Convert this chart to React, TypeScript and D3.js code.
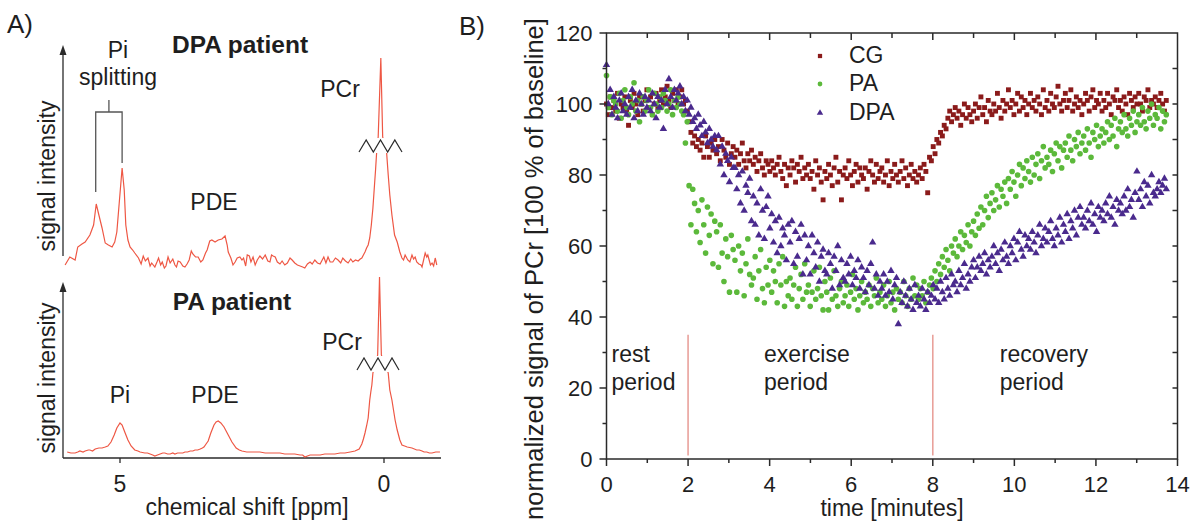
import React from 'react';
import * as d3 from 'd3';

// ---------- Panel B data (one value per scan) ----------
const SCAN_INTERVAL_MIN = 0.045;
const CG_VALUES = [
  100, 97, 102, 99, 101, 98, 103, 96, 100, 99,
  102, 98, 94, 101, 99, 103, 100, 97, 102, 100,
  98, 101, 104, 99, 102, 97, 100, 103, 99, 101,
  104, 100, 102, 105, 101, 99, 103, 101, 104, 100,
  102, 104, 100, 101, 98, 95, 92, 89, 91, 88,
  90, 87, 89, 85, 91, 88, 85, 89, 87, 90,
  86, 88, 84, 90, 87, 85, 89, 83, 86, 88,
  85, 87, 83, 86, 89, 84, 82, 86, 84, 87,
  83, 85, 81, 84, 86, 82, 80, 84, 83, 81,
  84, 82, 80, 83, 85, 81, 79, 83, 77, 82,
  80, 84, 82, 78, 83, 81, 85, 79, 82, 80,
  83, 79, 81, 76, 84, 80, 82, 78, 73, 81,
  79, 83, 80, 77, 82, 85, 78, 81, 73, 80,
  82, 79, 84, 80, 77, 81, 83, 78, 82, 80,
  79, 82, 76, 81, 84, 80, 78, 83, 79, 81,
  82, 78, 80, 84, 77, 81, 79, 83, 80, 78,
  81, 84, 79, 82, 77, 80, 83, 79, 81, 78,
  80, 82, 79, 83, 81, 75, 85, 84, 88, 86,
  90, 89, 92, 91, 94, 93, 96, 98, 95, 97,
  99, 96, 98, 94, 97, 100, 96, 99, 97, 95,
  98, 100, 96, 99, 102, 97, 99, 95, 101, 98,
  97, 100, 98, 103, 99, 96, 101, 98, 100, 104,
  99, 101, 97, 100, 103, 98, 102, 99, 101, 97,
  100, 103, 99, 101, 98, 102, 100, 97, 104, 99,
  101, 98, 103, 100, 99, 102, 105, 100, 98, 101,
  103, 99, 101, 104, 98, 100, 102, 99, 101, 97,
  100, 103, 101, 98, 102, 104, 99, 101, 100, 103,
  98, 101, 99, 103, 100, 97, 102, 101, 104, 99,
  101, 98, 102, 100, 97, 103, 101, 99, 102, 100,
  103, 100, 98, 102, 101, 104, 99, 101, 100, 102,
  99, 101, 103, 100, 98, 101,
];
const PA_VALUES = [
  108, 99, 102, 97, 101, 100, 98, 103, 96, 101,
  104, 99, 97, 102, 100, 106, 98, 101, 95, 100,
  102, 98, 101, 104, 99, 97, 103, 100, 98, 102,
  99, 103, 101, 98, 100, 104, 97, 101, 99, 102,
  100, 98, 97, 89, 95, 77, 66, 76, 72, 64,
  70, 61, 73, 66, 58, 71, 63, 69, 55, 67,
  64, 54, 66, 58, 50, 62, 57, 47, 63, 59,
  56, 47, 60, 53, 58, 46, 55, 62, 52, 49,
  51, 57, 45, 53, 59, 48, 44, 54, 49, 56,
  47, 53, 50, 44, 55, 49, 57, 43, 50, 46,
  51, 45, 49, 54, 43, 48, 52, 45, 55, 47,
  49, 43, 47, 53, 45, 48, 54, 46, 42, 50,
  47, 42, 51, 45, 53, 46, 43, 48, 50, 44,
  46, 49, 43, 47, 52, 45, 48, 42, 46, 50,
  44, 47, 45, 49, 43, 48, 46, 51, 44, 47,
  45, 49, 43, 46, 50, 44, 47, 42, 48, 45,
  47, 44, 50, 46, 43, 48, 45, 51, 46, 49,
  45, 48, 46, 50, 44, 47, 49, 51, 48, 53,
  50, 55, 52, 57, 54, 59, 56, 53, 60, 58,
  62, 57, 60, 64, 59, 63, 61, 66, 60, 64,
  67, 63, 69, 65, 71, 66, 70, 74, 68, 72,
  75, 70, 73, 77, 71, 76, 74, 78, 72, 79,
  76, 81, 78, 74, 80, 83, 77, 82, 79, 84,
  81, 78, 85, 80, 83, 86, 79, 84, 88, 82,
  85, 83, 87, 81, 86, 89, 84, 88, 82, 87,
  89, 85, 91, 87, 84, 90, 88, 92, 86, 89,
  91, 87, 93, 89, 85, 92, 90, 94, 88, 91,
  93, 89, 92, 95, 90, 94, 91, 96, 88, 93,
  95, 92, 97, 93, 91, 96, 94, 98, 92, 95,
  97, 94, 99, 95, 93, 98, 96, 100, 94, 97,
  96, 99, 93, 98, 95, 97,
];
const DPA_VALUES = [
  111, 100, 104, 97, 102, 99, 96, 101, 103, 98,
  100, 97, 102, 99, 104, 96, 101, 98, 103, 100,
  97, 102, 99, 101, 98, 103, 100, 96, 102, 99,
  101, 93, 104, 100, 107, 102, 99, 104, 101, 103,
  105, 100, 102, 98, 101, 97, 99, 95, 96, 93,
  97, 94, 91, 95, 92, 89, 93, 90, 88, 91,
  87, 91, 83, 88, 80, 86, 84, 78, 85, 82,
  82, 76, 80, 72, 81, 70, 77, 75, 79, 67,
  74, 66, 72, 63, 76, 70, 62, 71, 74, 65,
  69, 61, 67, 58, 68, 60, 65, 63, 56, 66,
  61, 67, 55, 64, 57, 62, 66, 52, 63, 56,
  60, 52, 63, 58, 54, 61, 50, 57, 59, 53,
  52, 58, 55, 48, 57, 53, 60, 49, 56, 51,
  50, 55, 52, 57, 49, 53, 51, 56, 48, 54,
  51, 47, 53, 49, 55, 61, 48, 52, 46, 50,
  48, 52, 46, 50, 47, 53, 45, 49, 51, 38,
  47, 44, 50, 46, 43, 48, 45, 42, 49, 44,
  46, 43, 48, 45, 42, 47, 44, 46, 49, 45,
  48, 44, 50, 47, 45, 51, 48, 46, 52, 49,
  50, 47, 53, 49, 51, 55, 48, 52, 50, 54,
  56, 51, 54, 57, 53, 55, 58, 52, 56, 54,
  57, 60, 55, 58, 53, 59, 56, 61, 57, 55,
  60, 58, 62, 56, 61, 64, 59, 57, 63, 60,
  62, 59, 64, 61, 58, 63, 66, 60, 62, 65,
  61, 64, 67, 62, 60, 65, 63, 68, 61, 66,
  64, 69, 62, 67, 65, 70, 63, 68, 71, 66,
  68, 65, 70, 67, 72, 66, 69, 64, 71, 68,
  70, 67, 72, 69, 74, 68, 71, 66, 73, 70,
  72, 69, 74, 70, 76, 71, 73, 68, 75, 81,
  73, 76, 71, 78, 74, 77, 72, 80, 75, 74,
  76, 78, 75, 77, 79, 76,
];
const SERIES_NAMES = ['CG', 'PA', 'DPA'];
const X_TICKS = [0, 2, 4, 6, 8, 10, 12, 14];
const Y_TICKS = [0, 20, 40, 60, 80, 100, 120];
const PERIOD_BOUNDARIES = [2, 8];
const PERIOD_LABELS = [['rest', 'period'], ['exercise', 'period'], ['recovery', 'period']];

// ---------- Panel A data (ppm, signal a.u.) ----------
const DPA_SPECTRUM: [number, number][] = [
  [6.04, 5], [5.95, 13], [5.85, 10], [5.8, 23], [5.72, 26], [5.66, 28], [5.57, 35], [5.5, 45], [5.45, 66],
  [5.4, 55], [5.34, 42], [5.28, 27], [5.22, 25], [5.15, 23], [5.1, 28], [5.06, 38], [5.01, 70], [4.96, 102],
  [4.92, 80], [4.89, 45], [4.85, 30], [4.81, 23], [4.76, 20], [4.72, 17], [4.65, 12], [4.6, 6], [4.56, 14],
  [4.52, 9], [4.47, 12], [4.43, 4], [4.4, 7], [4.34, 3], [4.3, 8], [4.27, 12], [4.23, 5], [4.2, 8], [4.16, 2],
  [4.13, 4], [4.09, 13], [4.05, 7], [4.0, 11], [3.96, 5], [3.93, 3], [3.9, 9], [3.86, 8], [3.81, 4], [3.77, 3],
  [3.73, 6], [3.69, 10], [3.65, 19], [3.62, 16], [3.57, 13], [3.52, 13], [3.47, 8], [3.43, 10], [3.38, 17],
  [3.35, 20], [3.3, 29], [3.26, 30], [3.2, 28], [3.14, 30], [3.07, 31], [3.01, 34], [2.97, 25], [2.95, 18],
  [2.9, 12], [2.86, 5], [2.82, 8], [2.78, 12], [2.73, 13], [2.69, 10], [2.66, 12], [2.62, 4], [2.59, 15],
  [2.55, 14], [2.52, 8], [2.48, 13], [2.44, 5], [2.4, 10], [2.35, 14], [2.3, 11], [2.25, 15], [2.2, 9],
  [2.16, 8], [2.13, 15], [2.1, 14], [2.06, 13], [2.02, 8], [1.97, 6], [1.93, 9], [1.88, 5], [1.83, 7],
  [1.78, 12], [1.74, 10], [1.69, 7], [1.64, 5], [1.59, 4], [1.54, 3], [1.5, 2], [1.45, 6], [1.4, 8],
  [1.36, 6], [1.31, 10], [1.26, 7], [1.21, 6], [1.17, 10], [1.14, 13], [1.1, 7], [1.06, 13], [1.02, 8],
  [0.97, 8], [0.92, 12], [0.87, 10], [0.82, 7], [0.78, 12], [0.73, 9], [0.68, 7], [0.63, 11], [0.59, 8],
  [0.54, 10], [0.49, 9], [0.45, 11], [0.42, 12], [0.38, 16], [0.36, 18], [0.33, 22], [0.3, 25], [0.27, 32],
  [0.24, 45], [0.21, 62], [0.18, 85], [0.16, 100], [0.14, 117], [0.11, 132], [0.06, 1000], [0.025, 132],
  [-0.05, 117], [-0.08, 95], [-0.11, 75], [-0.15, 55], [-0.2, 35], [-0.25, 28], [-0.3, 18], [-0.34, 12],
  [-0.37, 10], [-0.4, 15], [-0.45, 10], [-0.49, 8], [-0.53, 15], [-0.56, 11], [-0.59, 13], [-0.62, 8],
  [-0.66, 6], [-0.7, 5], [-0.72, 3], [-0.75, 10], [-0.78, 17], [-0.81, 13], [-0.83, 15], [-0.86, 9],
  [-0.88, 5], [-0.91, 7], [-0.94, 4], [-0.97, 12], [-1.0, 5],
];
const PA_SPECTRUM: [number, number][] = [
  [6.0, 6], [5.93, 5], [5.85, 5], [5.8, 6], [5.76, 7], [5.7, 6], [5.66, 7], [5.6, 8], [5.57, 8], [5.52, 7],
  [5.47, 9], [5.4, 10], [5.34, 10], [5.28, 11], [5.23, 12], [5.17, 16], [5.11, 23], [5.06, 30], [5.0, 35],
  [4.96, 33], [4.91, 26], [4.85, 18], [4.79, 12], [4.72, 8], [4.66, 7], [4.62, 6], [4.53, 5], [4.48, 5],
  [4.43, 4], [4.38, 3], [4.34, 2], [4.29, 3], [4.24, 4], [4.19, 5], [4.15, 5], [4.1, 4], [4.05, 4], [4.0, 5],
  [3.96, 4], [3.91, 5], [3.86, 5], [3.81, 5], [3.77, 6], [3.72, 6], [3.67, 7], [3.62, 7], [3.58, 8],
  [3.53, 8], [3.48, 9], [3.44, 10], [3.41, 11], [3.37, 14], [3.33, 17], [3.28, 25], [3.22, 33], [3.18, 36],
  [3.14, 37], [3.09, 35], [3.03, 31], [2.99, 27], [2.95, 23], [2.88, 16], [2.8, 10], [2.74, 8], [2.69, 7],
  [2.6, 6], [2.54, 6], [2.45, 6], [2.35, 6], [2.25, 5], [2.16, 5], [2.06, 5], [1.97, 5], [1.88, 4],
  [1.78, 4], [1.69, 4], [1.59, 3], [1.54, 3], [1.5, 1], [1.45, 2], [1.4, 3], [1.3, 3], [1.21, 3], [1.12, 4],
  [1.02, 4], [0.93, 4], [0.83, 5], [0.74, 5], [0.64, 6], [0.55, 7], [0.47, 9], [0.42, 14], [0.39, 19],
  [0.36, 25], [0.33, 32], [0.3, 40], [0.27, 58], [0.25, 66], [0.23, 73], [0.21, 85], [0.12, 100],
  [0.085, 1000], [0.05, 100], [-0.08, 85], [-0.11, 68], [-0.15, 58], [-0.18, 48], [-0.21, 38], [-0.25, 28],
  [-0.3, 18], [-0.34, 13], [-0.39, 12], [-0.44, 11], [-0.53, 10], [-0.62, 8], [-0.67, 8], [-0.72, 7],
  [-0.76, 6], [-0.81, 6], [-0.86, 5], [-0.91, 5], [-0.98, 6], [-1.06, 6],
];
const PI_SPLIT_PPM = [5.46, 4.96];
const PPM_TICKS = [5, 0];

// ---------- styles ----------
const FONT = '"Liberation Sans", Arial, Helvetica, sans-serif';
const TEXT = '#1e1e1e';
const AXIS = '#2a2a2a';
const SPEC = '#ee5744';
const COLORS: Record<string, string> = { CG: '#8b1b1b', PA: '#5cb93b', DPA: '#4a2a8d' };

export default function App() {
  // panel B scales
  const x = d3.scaleLinear().domain([0, 14]).range([606.5, 1177.5]);
  const y = d3.scaleLinear().domain([0, 120]).range([459, 33]);
  const seriesData: Record<string, number[]> = { CG: CG_VALUES, PA: PA_VALUES, DPA: DPA_VALUES };
  const symbols: Record<string, any> = {
    CG: d3.symbol().type(d3.symbolSquare).size(24)(),
    PA: d3.symbol().type(d3.symbolCircle).size(25)(),
    DPA: d3.symbol().type(d3.symbolTriangle).size(24)(),
  };
  const legendSymbols: Record<string, any> = {
    CG: d3.symbol().type(d3.symbolSquare).size(18)(),
    PA: d3.symbol().type(d3.symbolCircle).size(18)(),
    DPA: d3.symbol().type(d3.symbolTriangle).size(18)(),
  };
  const minorX = d3.range(1, 14, 2);
  const minorY = d3.range(10, 120, 20);
  const allXMinutes = d3.range(1, 14, 1);
  const rightTicks = d3.range(10, 120, 10);

  // panel A scales
  const px = d3.scaleLinear().domain([5, 0]).range([120, 384]);
  const topY = d3.scaleLinear().domain([0, 117, 130, 1000]).range([270, 153, 137, 58]);
  const botY = d3.scaleLinear().domain([0, 85, 100, 1000]).range([458, 373, 355, 277]);
  const topLine = d3.line<[number, number]>().x(d => px(d[0])).y(d => topY(d[1]))(DPA_SPECTRUM) || '';
  const botLine = d3.line<[number, number]>().x(d => px(d[0])).y(d => botY(d[1]))(PA_SPECTRUM) || '';
  const zig = (x0: number, x1: number, yHi: number, yLo: number) => {
    const pts: [number, number][] = [];
    for (let i = 0; i <= 6; i++) pts.push([x0 + ((x1 - x0) * i) / 6, i % 2 === 0 ? yLo : yHi]);
    return d3.line()(pts) || '';
  };

  const legendY = [56, 84, 113];

  return (
    <svg width={1197} height={524} style={{ position: 'absolute', left: 0, top: 0, background: '#fff' }}
      fontFamily={FONT}>
      <rect width={1197} height={524} fill="#fff" />
      <defs>
        <clipPath id="topLow"><rect x={0} y={153} width={460} height={200} /></clipPath>
        <clipPath id="topHigh"><rect x={0} y={0} width={460} height={138} /></clipPath>
        <clipPath id="botLow"><rect x={0} y={372} width={460} height={100} /></clipPath>
        <clipPath id="botHigh"><rect x={0} y={260} width={460} height={96} /></clipPath>
      </defs>

      {/* ---------------- Panel A ---------------- */}
      <text x={7} y={33} fontSize={26} fill={TEXT}>A)</text>

      {/* top spectrum */}
      <line x1={63} x2={63} y1={256} y2={52} stroke={AXIS} strokeWidth={1.3} />
      <path d="M63,45 L59.5,55 L66.5,55 Z" fill={AXIS} />
      <text transform="translate(55,176) rotate(-90)" textAnchor="middle" fontSize={23} fill={TEXT}>signal intensity</text>
      <text x={240} y={53} textAnchor="middle" fontSize={24.5} fontWeight="bold" fill={TEXT}>DPA patient</text>
      <path d={topLine} fill="none" stroke={SPEC} strokeWidth={1.2} clipPath="url(#topLow)" />
      <path d={topLine} fill="none" stroke={SPEC} strokeWidth={1.2} clipPath="url(#topHigh)" />
      <path d={zig(359, 402, 140, 152)} fill="none" stroke={AXIS} strokeWidth={1.2} />
      <text x={118} y={58} textAnchor="middle" fontSize={23} fill={TEXT}>Pi</text>
      <text x={118} y={85} textAnchor="middle" fontSize={23} fill={TEXT}>splitting</text>
      <path
        d={`M${px(PI_SPLIT_PPM[0])},192 V112 H${px(PI_SPLIT_PPM[1])} V163 M${(px(PI_SPLIT_PPM[0]) + px(PI_SPLIT_PPM[1])) / 2},112 V100`}
        fill="none" stroke="#555" strokeWidth={1.3} />
      <text x={214} y={210} textAnchor="middle" fontSize={23} fill={TEXT}>PDE</text>
      <text x={340} y={97} textAnchor="middle" fontSize={23} fill={TEXT}>PCr</text>

      {/* bottom spectrum */}
      <line x1={63} x2={63} y1={458} y2={290} stroke={AXIS} strokeWidth={1.3} />
      <path d="M63,282 L59.5,292 L66.5,292 Z" fill={AXIS} />
      <line x1={63} x2={441} y1={458} y2={458} stroke={AXIS} strokeWidth={1.3} />
      {PPM_TICKS.map(t => (
        <g key={t}>
          <line x1={px(t)} x2={px(t)} y1={458} y2={463} stroke={AXIS} strokeWidth={1.3} />
          <text x={px(t)} y={492} textAnchor="middle" fontSize={23} fill={TEXT}>{t}</text>
        </g>
      ))}
      <text x={247} y={515} textAnchor="middle" fontSize={23} fill={TEXT}>chemical shift [ppm]</text>
      <text transform="translate(55,378) rotate(-90)" textAnchor="middle" fontSize={23} fill={TEXT}>signal intensity</text>
      <text x={232} y={310} textAnchor="middle" fontSize={24.5} fontWeight="bold" fill={TEXT}>PA patient</text>
      <path d={botLine} fill="none" stroke={SPEC} strokeWidth={1.2} clipPath="url(#botLow)" />
      <path d={botLine} fill="none" stroke={SPEC} strokeWidth={1.2} clipPath="url(#botHigh)" />
      <path d={zig(357, 399, 358, 370)} fill="none" stroke={AXIS} strokeWidth={1.2} />
      <text x={120} y={403} textAnchor="middle" fontSize={23} fill={TEXT}>Pi</text>
      <text x={215} y={403} textAnchor="middle" fontSize={23} fill={TEXT}>PDE</text>
      <text x={342} y={350} textAnchor="middle" fontSize={23} fill={TEXT}>PCr</text>

      {/* ---------------- Panel B ---------------- */}
      <text x={459} y={35} fontSize={26} fill={TEXT}>B)</text>

      {/* period boundaries */}
      {PERIOD_BOUNDARIES.map(t => (
        <line key={t} x1={x(t)} x2={x(t)} y1={y(35)} y2={y(1)} stroke="#e9a19b" strokeWidth={1.6} />
      ))}
      {PERIOD_LABELS.map((lines, i) => {
        const lx = i === 0 ? x(0) + 5 : i === 1 ? x(PERIOD_BOUNDARIES[0]) + 76 : x(PERIOD_BOUNDARIES[1]) + 67;
        return (
          <text key={i} x={lx} y={362} fontSize={23} fill={TEXT}>
            <tspan x={lx} dy={0}>{lines[0]}</tspan>
            <tspan x={lx} dy={28}>{lines[1]}</tspan>
          </text>
        );
      })}

      {/* scatter */}
      {SERIES_NAMES.map(name => (
        <g key={name} fill={COLORS[name]}>
          {seriesData[name].map((v, i) => (
            <path key={i} d={symbols[name]}
              transform={`translate(${x(i * SCAN_INTERVAL_MIN)},${y(v)})`} />
          ))}
        </g>
      ))}

      {/* frame */}
      <rect x={x(0)} y={y(120)} width={x(14) - x(0)} height={y(0) - y(120)} fill="none" stroke={AXIS} strokeWidth={1.5} />
      {X_TICKS.map(t => (
        <g key={t}>
          <line x1={x(t)} x2={x(t)} y1={y(0)} y2={y(0) + 7} stroke={AXIS} strokeWidth={1.5} />
          <text x={x(t)} y={492} textAnchor="middle" fontSize={22} fill={TEXT}>{t}</text>
        </g>
      ))}
      {minorX.map(t => (
        <line key={t} x1={x(t)} x2={x(t)} y1={y(0)} y2={y(0) + 4} stroke={AXIS} strokeWidth={1.5} />
      ))}
      {allXMinutes.map(t => (
        <line key={t} x1={x(t)} x2={x(t)} y1={y(120)} y2={y(120) + (t % 2 === 0 ? 7 : 5)} stroke={AXIS} strokeWidth={1.5} />
      ))}
      {Y_TICKS.map(v => (
        <g key={v}>
          <line x1={x(0) - 7} x2={x(0)} y1={y(v)} y2={y(v)} stroke={AXIS} strokeWidth={1.5} />
          <text x={x(0) - 14} y={y(v) + 8} textAnchor="end" fontSize={22} fill={TEXT}>{v}</text>
        </g>
      ))}
      {minorY.map(v => (
        <line key={v} x1={x(0) - 4} x2={x(0)} y1={y(v)} y2={y(v)} stroke={AXIS} strokeWidth={1.5} />
      ))}
      {rightTicks.map(v => (
        <line key={v} x1={x(14) - 5} x2={x(14)} y1={y(v)} y2={y(v)} stroke={AXIS} strokeWidth={1.5} />
      ))}
      <text x={(x(0) + x(14)) / 2} y={516} textAnchor="middle" fontSize={23} fill={TEXT}>time [minutes]</text>
      <text transform="translate(543,269) rotate(-90)" textAnchor="middle" fontSize={25.5} fill={TEXT}>
        normalized signal of PCr [100 % of baseline]
      </text>

      {/* legend */}
      {SERIES_NAMES.map((name, i) => (
        <g key={name}>
          <path d={legendSymbols[name]} transform={`translate(820,${legendY[i]})`} fill={COLORS[name]} />
          <text x={849} y={legendY[i] + 7} fontSize={23} fill={TEXT}>{name}</text>
        </g>
      ))}
    </svg>
  );
}
